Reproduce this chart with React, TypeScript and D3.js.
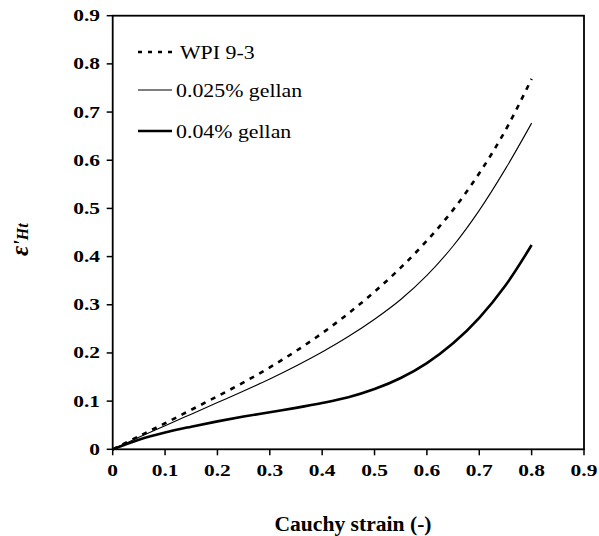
import React from "react";
import * as d3 from "d3";

const strainX = [0, 0.05, 0.1, 0.15, 0.2, 0.25, 0.3, 0.35, 0.4, 0.45, 0.5, 0.55, 0.6, 0.65, 0.7, 0.75, 0.8];
const wpi = [0, 0.027, 0.054, 0.082, 0.11, 0.139, 0.17, 0.204, 0.241, 0.282, 0.327, 0.377, 0.433, 0.497, 0.573, 0.662, 0.769];
const gellan025 = [0, 0.025, 0.049, 0.073, 0.097, 0.121, 0.146, 0.173, 0.202, 0.234, 0.27, 0.311, 0.361, 0.422, 0.496, 0.582, 0.677];
const gellan04 = [0, 0.02, 0.035, 0.047, 0.058, 0.068, 0.077, 0.086, 0.096, 0.108, 0.125, 0.148, 0.179, 0.22, 0.273, 0.34, 0.424];

const xTicks = [0, 0.1, 0.2, 0.3, 0.4, 0.5, 0.6, 0.7, 0.8, 0.9];
const yTicks = [0, 0.1, 0.2, 0.3, 0.4, 0.5, 0.6, 0.7, 0.8, 0.9];
const legendLabels = ["WPI 9-3", "0.025% gellan", "0.04% gellan"];

export default function App() {
  const W = 599, H = 536;
  const x = d3.scaleLinear().domain([0, 0.9]).range([112.7, 584]);
  const y = d3.scaleLinear().domain([0, 0.9]).range([449.3, 15.7]);
  const line = d3
    .line<number>()
    .x((_, i) => x(strainX[i]))
    .y((d) => y(d))
    .curve(d3.curveCatmullRom.alpha(0.5));

  const serif = "Times New Roman, Liberation Serif, serif";
  const series = [
    { data: wpi, width: 2.6, dash: "5,6", legDash: "4,6" },
    { data: gellan025, width: 1.1, dash: "", legDash: "" },
    { data: gellan04, width: 2.6, dash: "", legDash: "" },
  ];
  const legendY = [52, 90, 131];

  return (
    <svg width={W} height={H} style={{ position: "absolute", left: 0, top: 0, background: "#fff" }}>
      <rect x={0} y={0} width={W} height={H} fill="#fff" />
      <rect
        x={x(0)}
        y={y(0.9)}
        width={x(0.9) - x(0)}
        height={y(0) - y(0.9)}
        fill="none"
        stroke="#000"
        strokeWidth={1.8}
      />
      {yTicks.map((t) => (
        <g key={"y" + t}>
          <line x1={x(0) - 6} x2={x(0)} y1={y(t)} y2={y(t)} stroke="#000" strokeWidth={1.5} />
          <text
            transform={`translate(${100},${y(t) + 5.5}) scale(1.3,1)`}
            textAnchor="end"
            fontFamily={serif}
            fontWeight="bold"
            fontSize={16.5}
          >
            {String(t)}
          </text>
        </g>
      ))}
      {xTicks.map((t) => (
        <g key={"x" + t}>
          <line x1={x(t)} x2={x(t)} y1={y(0)} y2={y(0) + 6} stroke="#000" strokeWidth={1.5} />
          <text
            transform={`translate(${x(t)},${475.5}) scale(1.3,1)`}
            textAnchor="middle"
            fontFamily={serif}
            fontWeight="bold"
            fontSize={16.5}
          >
            {String(t)}
          </text>
        </g>
      ))}
      {series.map((s, i) => (
        <path
          key={"s" + i}
          d={line(s.data) || ""}
          fill="none"
          stroke="#000"
          strokeWidth={s.width}
          strokeDasharray={s.dash || undefined}
        />
      ))}
      {series.map((s, i) => (
        <g key={"l" + i}>
          <line
            x1={138}
            x2={172}
            y1={legendY[i]}
            y2={legendY[i]}
            stroke="#000"
            strokeWidth={s.width}
            strokeDasharray={s.legDash || undefined}
          />
          <text
            transform={`translate(${i === 0 ? 180 : 176},${legendY[i] + 6.5}) scale(1.15,1)`}
            fontFamily={serif}
            fontSize={19}
          >
            {legendLabels[i]}
          </text>
        </g>
      ))}
      <text
        transform={`translate(${353},${531}) scale(1.08,1)`}
        textAnchor="middle"
        fontFamily={serif}
        fontWeight="bold"
        fontSize={20}
      >
        Cauchy strain (-)
      </text>
      <text
        transform={`translate(${28},${256}) rotate(-90)`}
        fontFamily={serif}
        fontWeight="bold"
        fontStyle="italic"
      >
        <tspan fontSize={25}>ε</tspan>
        <tspan fontSize={20}>'</tspan>
        <tspan fontSize={16}>Ht</tspan>
      </text>
    </svg>
  );
}
